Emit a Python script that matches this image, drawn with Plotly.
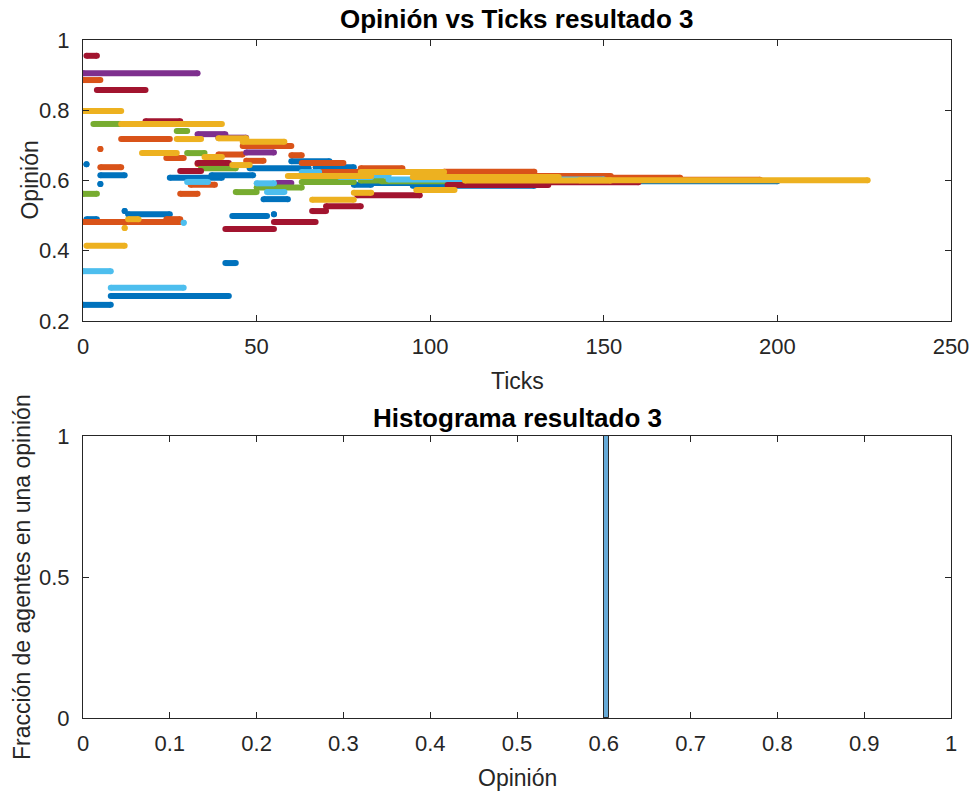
import plotly.graph_objects as go

# Opinion segments per agent colour: (tick_start, tick_end, opinion)
blue_segments = [(0, 8, 0.246), (8, 42, 0.271), (1, 4, 0.49), (1, 1, 0.646), (5, 12, 0.615),
                 (5, 5, 0.59), (12, 12, 0.513), (13, 25, 0.504), (25, 40, 0.608), (37, 49, 0.615),
                 (41, 44, 0.365), (43, 53, 0.499), (55, 55, 0.504), (52, 59, 0.547), (48, 65, 0.635),
                 (60, 71, 0.655), (67, 78, 0.638), (78, 83, 0.588), (80, 95, 0.593), (95, 130, 0.585),
                 (130, 200, 0.598)]
orange_segments = [(0, 5, 0.886), (11, 25, 0.718), (5, 5, 0.69), (5, 11, 0.638), (0, 28, 0.482),
                   (24, 28, 0.49), (24, 29, 0.664), (33, 35, 0.647), (28, 33, 0.562), (31, 38, 0.588),
                   (39, 46, 0.674), (46, 60, 0.698), (47, 52, 0.656), (60, 63, 0.672), (63, 75, 0.65),
                   (68, 80, 0.624), (80, 92, 0.635), (104, 130, 0.625), (130, 152, 0.613),
                   (152, 172, 0.608), (172, 195, 0.602)]
yellow_segments = [(0, 11, 0.798), (11, 40, 0.761), (1, 12, 0.414), (12, 12, 0.465), (13, 16, 0.49),
                   (17, 27, 0.678), (27, 34, 0.718), (35, 40, 0.667), (39, 47, 0.72), (43, 48, 0.644),
                   (46, 58, 0.71), (59, 83, 0.613), (66, 78, 0.545), (78, 83, 0.565), (80, 104, 0.624),
                   (95, 137, 0.61), (96, 107, 0.573), (110, 152, 0.6), (143, 226, 0.601)]
purple_segments = [(0, 33, 0.905), (33, 41, 0.732), (39, 47, 0.722), (47, 55, 0.68), (56, 60, 0.593),
                   (97, 103, 0.604), (110, 150, 0.6)]
green_segments = [(3, 11, 0.761), (27, 30, 0.741), (30, 35, 0.678), (0, 4, 0.562), (34, 44, 0.635),
                  (44, 50, 0.567), (50, 63, 0.58), (63, 78, 0.596), (80, 86, 0.6), (86, 140, 0.598)]
lightblue_segments = [(0, 8, 0.342), (8, 29, 0.295), (29, 29, 0.48), (30, 36, 0.596), (50, 55, 0.592),
                      (53, 58, 0.567), (63, 68, 0.624), (74, 83, 0.61), (80, 88, 0.615), (88, 150, 0.603)]
darkred_segments = [(1, 4, 0.955), (4, 18, 0.858), (18, 28, 0.769), (28, 34, 0.627), (33, 42, 0.65),
                    (41, 55, 0.462), (55, 67, 0.482), (66, 70, 0.513), (70, 80, 0.527), (79, 97, 0.558),
                    (105, 134, 0.587), (134, 160, 0.595)]

series_colors = ["#0072BD", "#D95319", "#EDB120", "#7E2F8E", "#77AC30", "#4DBEEE", "#A2142F"]
series_segments = [blue_segments, orange_segments, yellow_segments, purple_segments,
                   green_segments, lightblue_segments, darkred_segments]

# Histogram
hist_centers = [0.603]
hist_fraction = [1.0]
hist_width = 0.006

x_ticks_top = [0, 50, 100, 150, 200, 250]
y_ticks_top = [0.2, 0.4, 0.6, 0.8, 1]
y_ticklabels_top = ["0.2", "0.4", "0.6", "0.8", "1"]
x_ticks_bot = [0, 0.1, 0.2, 0.3, 0.4, 0.5, 0.6, 0.7, 0.8, 0.9, 1]
x_ticklabels_bot = ["0", "0.1", "0.2", "0.3", "0.4", "0.5", "0.6", "0.7", "0.8", "0.9", "1"]
y_ticks_bot = [0, 0.5, 1]
y_ticklabels_bot = ["0", "0.5", "1"]

fig = go.Figure()

draw_order = [0, 1, 3, 4, 5, 6, 2]
for i in draw_order:
    xs, ys = [], []
    for s, e, v in series_segments[i]:
        xs += [s, e, None]
        ys += [v, v, None]
    fig.add_trace(go.Scatter(x=xs, y=ys, mode="lines+markers",
                             line=dict(color=series_colors[i], width=6),
                             marker=dict(color=series_colors[i], size=6),
                             xaxis="x", yaxis="y", showlegend=False,
                             connectgaps=False))

fig.add_trace(go.Bar(x=hist_centers, y=hist_fraction, width=hist_width,
                     marker=dict(color="#66AAD7", line=dict(color="#262626", width=1)),
                     xaxis="x2", yaxis="y2", showlegend=False))

font = "Liberation Sans, Arial, Helvetica, sans-serif"
axcol = "#262626"
common = dict(showline=True, linecolor=axcol, linewidth=1, mirror="ticks", ticks="inside",
              ticklen=6, tickcolor=axcol, showgrid=False, zeroline=False, automargin=False,
              ticklabeloverflow="allow",
              tickfont=dict(size=22, color=axcol, family=font))
tfont = dict(size=23, color=axcol, family=font)
top_bottom = 0.5855
bot_top = 0.4159

fig.update_layout(
    width=973, height=794,
    margin=dict(l=83, r=22, t=40, b=76),
    paper_bgcolor="white", plot_bgcolor="white",
    font=dict(family=font, color=axcol),
    xaxis=dict(domain=[0, 1], range=[0, 250], tickvals=x_ticks_top, anchor="y", ticklabelstandoff=6,
               **common),
    yaxis=dict(domain=[top_bottom, 1], range=[0.2, 1], tickvals=y_ticks_top, ticktext=y_ticklabels_top,
               anchor="x", ticklabelstandoff=8, **common),
    xaxis2=dict(domain=[0, 1], range=[0, 1], tickvals=x_ticks_bot, ticktext=x_ticklabels_bot,
                anchor="y2", ticklabelstandoff=6, **common),
    yaxis2=dict(domain=[0, bot_top], range=[0, 1], tickvals=y_ticks_bot, ticktext=y_ticklabels_bot,
                anchor="x2", ticklabelstandoff=8, **common),
    bargap=0,
    annotations=[
        dict(text="<b>Opinión vs Ticks resultado 3</b>", x=0.5, y=1, xref="paper", yref="paper",
             xanchor="center", yanchor="bottom", yshift=4, showarrow=False,
             font=dict(size=26, color="#000000", family=font)),
        dict(text="<b>Histograma resultado 3</b>", x=0.5, y=bot_top, xref="paper", yref="paper",
             xanchor="center", yanchor="bottom", yshift=1, showarrow=False,
             font=dict(size=26, color="#000000", family=font)),
        dict(text="Ticks", x=0.5, y=top_bottom, xref="paper", yref="paper",
             xanchor="center", yanchor="middle", yshift=-60, showarrow=False, font=tfont),
        dict(text="Opinión", x=0.5, y=0, xref="paper", yref="paper",
             xanchor="center", yanchor="middle", yshift=-60, showarrow=False, font=tfont),
        dict(text="Opinión", x=0, y=(top_bottom + 1) / 2, xref="paper", yref="paper",
             xanchor="center", yanchor="middle", xshift=-53, textangle=-90, showarrow=False,
             font=tfont),
        dict(text="Fracción de agentes en una opinión", x=0, y=bot_top / 2, xref="paper", yref="paper",
             xanchor="center", yanchor="middle", xshift=-61, textangle=-90, showarrow=False,
             font=tfont),
    ],
)

fig.write_html("out.html", config={"displayModeBar": False},
               post_script="document.body.style.margin='0';document.body.style.overflow='hidden';")
